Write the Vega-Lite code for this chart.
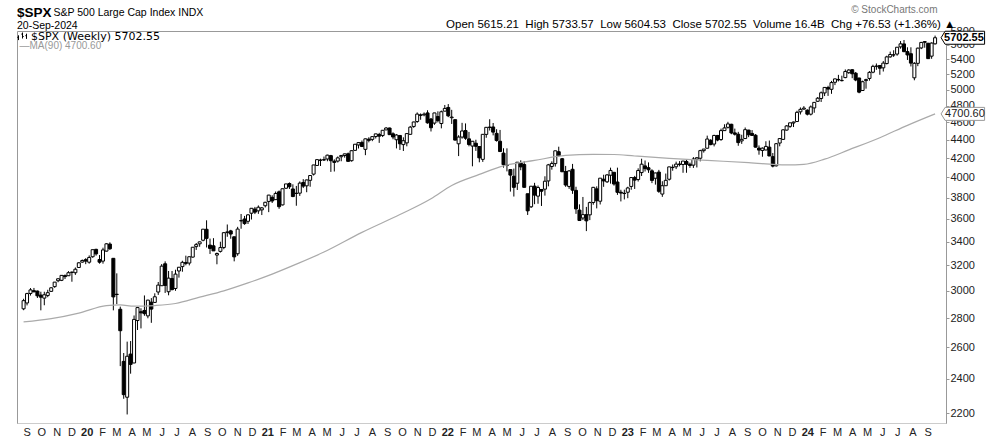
{
  "$schema": "https://vega.github.io/schema/vega-lite/v6.json",
  "width": 929,
  "height": 392,
  "autosize": {"type": "none"},
  "padding": {"left": 17, "top": 31, "right": 44, "bottom": 15},
  "background": "white",
  "config": {"view": {"stroke": null}, "font": "Liberation Sans"},
  "title": {
    "text": "$SPX",
    "subtitle": "20-Sep-2024",
    "anchor": "start",
    "frame": "group",
    "font": "Liberation Sans",
    "fontSize": 13.5,
    "fontWeight": "bold",
    "color": "#000",
    "subtitleFont": "Liberation Sans",
    "subtitleFontSize": 10.5,
    "subtitleColor": "#000",
    "subtitlePadding": 1,
    "offset": 3,
    "dy": 30
  },
  "datasets": {
    "spx": [
      {"d":"2019-08-30","o":2866,"h":2940,"l":2856,"c":2926},
      {"d":"2019-09-06","o":2909,"h":2985,"l":2891,"c":2979},
      {"d":"2019-09-13","o":2980,"h":3021,"l":2964,"c":3007},
      {"d":"2019-09-20","o":3001,"h":3022,"l":2990,"c":2992},
      {"d":"2019-09-27","o":2998,"h":3002,"l":2946,"c":2962},
      {"d":"2019-10-04","o":2968,"h":2993,"l":2855,"c":2952},
      {"d":"2019-10-11","o":2945,"h":2993,"l":2892,"c":2970},
      {"d":"2019-10-18","o":2965,"h":3008,"l":2952,"c":2986},
      {"d":"2019-10-25","o":2996,"h":3027,"l":2992,"c":3023},
      {"d":"2019-11-01","o":3032,"h":3066,"l":3023,"c":3067},
      {"d":"2019-11-08","o":3078,"h":3097,"l":3066,"c":3093},
      {"d":"2019-11-15","o":3081,"h":3120,"l":3075,"c":3120},
      {"d":"2019-11-22","o":3118,"h":3127,"l":3091,"c":3110},
      {"d":"2019-11-29","o":3117,"h":3154,"l":3115,"c":3141},
      {"d":"2019-12-06","o":3143,"h":3150,"l":3070,"c":3146},
      {"d":"2019-12-13","o":3141,"h":3183,"l":3124,"c":3169},
      {"d":"2019-12-20","o":3183,"h":3226,"l":3180,"c":3221},
      {"d":"2019-12-27","o":3227,"h":3248,"l":3222,"c":3240},
      {"d":"2020-01-03","o":3247,"h":3259,"l":3210,"c":3235},
      {"d":"2020-01-10","o":3226,"h":3282,"l":3214,"c":3265},
      {"d":"2020-01-17","o":3271,"h":3329,"l":3263,"c":3330},
      {"d":"2020-01-24","o":3333,"h":3338,"l":3280,"c":3295},
      {"d":"2020-01-31","o":3248,"h":3285,"l":3214,"c":3226},
      {"d":"2020-02-07","o":3235,"h":3347,"l":3214,"c":3328},
      {"d":"2020-02-14","o":3318,"h":3385,"l":3315,"c":3380},
      {"d":"2020-02-21","o":3378,"h":3393,"l":3328,"c":3338},
      {"d":"2020-02-28","o":3258,"h":3260,"l":2855,"c":2954},
      {"d":"2020-03-06","o":2974,"h":3136,"l":2901,"c":2972},
      {"d":"2020-03-13","o":2863,"h":2882,"l":2478,"c":2711},
      {"d":"2020-03-20","o":2508,"h":2562,"l":2281,"c":2305},
      {"d":"2020-03-27","o":2290,"h":2637,"l":2192,"c":2541},
      {"d":"2020-04-03","o":2555,"h":2641,"l":2431,"c":2489},
      {"d":"2020-04-10","o":2498,"h":2818,"l":2497,"c":2790},
      {"d":"2020-04-17","o":2782,"h":2880,"l":2716,"c":2875},
      {"d":"2020-04-24","o":2845,"h":2870,"l":2727,"c":2837},
      {"d":"2020-05-01","o":2854,"h":2965,"l":2816,"c":2831},
      {"d":"2020-05-08","o":2815,"h":2932,"l":2798,"c":2930},
      {"d":"2020-05-15","o":2915,"h":2945,"l":2766,"c":2864},
      {"d":"2020-05-22","o":2913,"h":2981,"l":2909,"c":2955},
      {"d":"2020-05-29","o":2991,"h":3068,"l":2969,"c":3044},
      {"d":"2020-06-05","o":3039,"h":3211,"l":3038,"c":3194},
      {"d":"2020-06-12","o":3213,"h":3233,"l":2984,"c":3041},
      {"d":"2020-06-19","o":2993,"h":3155,"l":2966,"c":3098},
      {"d":"2020-06-26","o":3095,"h":3155,"l":3004,"c":3009},
      {"d":"2020-07-03","o":3018,"h":3165,"l":3000,"c":3130},
      {"d":"2020-07-10","o":3155,"h":3185,"l":3102,"c":3185},
      {"d":"2020-07-17","o":3190,"h":3238,"l":3149,"c":3225},
      {"d":"2020-07-24","o":3224,"h":3280,"l":3201,"c":3216},
      {"d":"2020-07-31","o":3219,"h":3272,"l":3200,"c":3271},
      {"d":"2020-08-07","o":3268,"h":3352,"l":3264,"c":3351},
      {"d":"2020-08-14","o":3356,"h":3387,"l":3328,"c":3373},
      {"d":"2020-08-21","o":3380,"h":3399,"l":3355,"c":3397},
      {"d":"2020-08-28","o":3411,"h":3509,"l":3402,"c":3508},
      {"d":"2020-09-04","o":3507,"h":3588,"l":3349,"c":3427},
      {"d":"2020-09-11","o":3369,"h":3425,"l":3294,"c":3341},
      {"d":"2020-09-18","o":3363,"h":3429,"l":3322,"c":3320},
      {"d":"2020-09-25","o":3285,"h":3306,"l":3209,"c":3298},
      {"d":"2020-10-02","o":3316,"h":3398,"l":3306,"c":3348},
      {"d":"2020-10-09","o":3349,"h":3482,"l":3334,"c":3477},
      {"d":"2020-10-16","o":3478,"h":3550,"l":3441,"c":3484},
      {"d":"2020-10-23","o":3493,"h":3502,"l":3424,"c":3465},
      {"d":"2020-10-30","o":3441,"h":3441,"l":3233,"c":3270},
      {"d":"2020-11-06","o":3296,"h":3529,"l":3279,"c":3509},
      {"d":"2020-11-13","o":3583,"h":3646,"l":3512,"c":3585},
      {"d":"2020-11-20","o":3600,"h":3628,"l":3547,"c":3558},
      {"d":"2020-11-27","o":3579,"h":3644,"l":3555,"c":3638},
      {"d":"2020-12-04","o":3653,"h":3700,"l":3595,"c":3699},
      {"d":"2020-12-11","o":3692,"h":3712,"l":3645,"c":3663},
      {"d":"2020-12-18","o":3675,"h":3726,"l":3647,"c":3709},
      {"d":"2020-12-25","o":3684,"h":3711,"l":3636,"c":3703},
      {"d":"2021-01-01","o":3723,"h":3760,"l":3707,"c":3756},
      {"d":"2021-01-08","o":3764,"h":3827,"l":3663,"c":3825},
      {"d":"2021-01-15","o":3803,"h":3823,"l":3749,"c":3768},
      {"d":"2021-01-22","o":3781,"h":3860,"l":3781,"c":3841},
      {"d":"2021-01-29","o":3857,"h":3870,"l":3694,"c":3714},
      {"d":"2021-02-05","o":3731,"h":3888,"l":3726,"c":3887},
      {"d":"2021-02-12","o":3892,"h":3935,"l":3885,"c":3935},
      {"d":"2021-02-19","o":3939,"h":3950,"l":3885,"c":3907},
      {"d":"2021-02-26","o":3885,"h":3931,"l":3805,"c":3811},
      {"d":"2021-03-05","o":3842,"h":3915,"l":3723,"c":3842},
      {"d":"2021-03-12","o":3844,"h":3960,"l":3817,"c":3943},
      {"d":"2021-03-19","o":3949,"h":3983,"l":3894,"c":3913},
      {"d":"2021-03-26","o":3916,"h":3978,"l":3853,"c":3975},
      {"d":"2021-04-02","o":3971,"h":4018,"l":3907,"c":4020},
      {"d":"2021-04-09","o":4034,"h":4130,"l":4020,"c":4129},
      {"d":"2021-04-16","o":4124,"h":4191,"l":4119,"c":4185},
      {"d":"2021-04-23","o":4179,"h":4195,"l":4118,"c":4180},
      {"d":"2021-04-30","o":4185,"h":4218,"l":4171,"c":4181},
      {"d":"2021-05-07","o":4192,"h":4238,"l":4168,"c":4233},
      {"d":"2021-05-14","o":4228,"h":4236,"l":4057,"c":4174},
      {"d":"2021-05-21","o":4169,"h":4188,"l":4061,"c":4156},
      {"d":"2021-05-28","o":4170,"h":4219,"l":4155,"c":4204},
      {"d":"2021-06-04","o":4216,"h":4234,"l":4168,"c":4230},
      {"d":"2021-06-11","o":4229,"h":4249,"l":4206,"c":4247},
      {"d":"2021-06-18","o":4248,"h":4261,"l":4164,"c":4167},
      {"d":"2021-06-25","o":4174,"h":4286,"l":4164,"c":4281},
      {"d":"2021-07-02","o":4285,"h":4355,"l":4278,"c":4352},
      {"d":"2021-07-09","o":4344,"h":4372,"l":4305,"c":4370},
      {"d":"2021-07-16","o":4372,"h":4393,"l":4321,"c":4327},
      {"d":"2021-07-23","o":4296,"h":4415,"l":4233,"c":4412},
      {"d":"2021-07-30","o":4409,"h":4430,"l":4373,"c":4395},
      {"d":"2021-08-06","o":4406,"h":4440,"l":4386,"c":4437},
      {"d":"2021-08-13","o":4438,"h":4468,"l":4416,"c":4468},
      {"d":"2021-08-20","o":4461,"h":4480,"l":4367,"c":4442},
      {"d":"2021-08-27","o":4450,"h":4510,"l":4432,"c":4509},
      {"d":"2021-09-03","o":4513,"h":4545,"l":4513,"c":4535},
      {"d":"2021-09-10","o":4535,"h":4539,"l":4457,"c":4459},
      {"d":"2021-09-17","o":4469,"h":4486,"l":4407,"c":4433},
      {"d":"2021-09-24","o":4402,"h":4465,"l":4306,"c":4455},
      {"d":"2021-10-01","o":4450,"h":4455,"l":4289,"c":4357},
      {"d":"2021-10-08","o":4348,"h":4429,"l":4278,"c":4391},
      {"d":"2021-10-15","o":4367,"h":4475,"l":4329,"c":4471},
      {"d":"2021-10-22","o":4463,"h":4559,"l":4459,"c":4545},
      {"d":"2021-10-29","o":4553,"h":4608,"l":4537,"c":4605},
      {"d":"2021-11-05","o":4610,"h":4718,"l":4595,"c":4698},
      {"d":"2021-11-12","o":4689,"h":4706,"l":4631,"c":4683},
      {"d":"2021-11-19","o":4689,"h":4718,"l":4672,"c":4698},
      {"d":"2021-11-26","o":4712,"h":4744,"l":4585,"c":4595},
      {"d":"2021-12-03","o":4640,"h":4652,"l":4495,"c":4538},
      {"d":"2021-12-10","o":4592,"h":4713,"l":4572,"c":4712},
      {"d":"2021-12-17","o":4669,"h":4731,"l":4600,"c":4621},
      {"d":"2021-12-24","o":4587,"h":4740,"l":4531,"c":4726},
      {"d":"2021-12-31","o":4733,"h":4808,"l":4733,"c":4766},
      {"d":"2022-01-07","o":4778,"h":4819,"l":4662,"c":4677},
      {"d":"2022-01-14","o":4655,"h":4749,"l":4582,"c":4663},
      {"d":"2022-01-21","o":4632,"h":4632,"l":4395,"c":4398},
      {"d":"2022-01-28","o":4357,"h":4453,"l":4223,"c":4432},
      {"d":"2022-02-04","o":4432,"h":4595,"l":4414,"c":4501},
      {"d":"2022-02-11","o":4506,"h":4588,"l":4401,"c":4419},
      {"d":"2022-02-18","o":4412,"h":4490,"l":4329,"c":4349},
      {"d":"2022-02-25","o":4332,"h":4385,"l":4115,"c":4385},
      {"d":"2022-03-04","o":4363,"h":4402,"l":4279,"c":4329},
      {"d":"2022-03-11","o":4327,"h":4329,"l":4157,"c":4204},
      {"d":"2022-03-18","o":4188,"h":4465,"l":4161,"c":4463},
      {"d":"2022-03-25","o":4462,"h":4546,"l":4424,"c":4543},
      {"d":"2022-04-01","o":4541,"h":4637,"l":4506,"c":4546},
      {"d":"2022-04-08","o":4547,"h":4593,"l":4451,"c":4488},
      {"d":"2022-04-15","o":4474,"h":4521,"l":4381,"c":4393},
      {"d":"2022-04-22","o":4385,"h":4513,"l":4268,"c":4272},
      {"d":"2022-04-29","o":4255,"h":4308,"l":4101,"c":4132},
      {"d":"2022-05-06","o":4130,"h":4307,"l":4062,"c":4123},
      {"d":"2022-05-13","o":4081,"h":4081,"l":3859,"c":4024},
      {"d":"2022-05-20","o":4013,"h":4091,"l":3811,"c":3901},
      {"d":"2022-05-27","o":3942,"h":4158,"l":3875,"c":4158},
      {"d":"2022-06-03","o":4150,"h":4178,"l":4074,"c":4109},
      {"d":"2022-06-10","o":4134,"h":4168,"l":3900,"c":3901},
      {"d":"2022-06-17","o":3838,"h":3838,"l":3637,"c":3675},
      {"d":"2022-06-24","o":3713,"h":3913,"l":3702,"c":3912},
      {"d":"2022-07-01","o":3913,"h":3946,"l":3738,"c":3825},
      {"d":"2022-07-08","o":3815,"h":3919,"l":3742,"c":3899},
      {"d":"2022-07-15","o":3880,"h":3881,"l":3721,"c":3863},
      {"d":"2022-07-22","o":3883,"h":4012,"l":3820,"c":3962},
      {"d":"2022-07-29","o":3965,"h":4140,"l":3911,"c":4130},
      {"d":"2022-08-05","o":4113,"h":4167,"l":4080,"c":4145},
      {"d":"2022-08-12","o":4143,"h":4280,"l":4112,"c":4280},
      {"d":"2022-08-19","o":4270,"h":4325,"l":4218,"c":4228},
      {"d":"2022-08-26","o":4195,"h":4203,"l":4057,"c":4058},
      {"d":"2022-09-02","o":4061,"h":4119,"l":3906,"c":3924},
      {"d":"2022-09-09","o":3910,"h":4076,"l":3886,"c":4067},
      {"d":"2022-09-16","o":4084,"h":4140,"l":3837,"c":3873},
      {"d":"2022-09-23","o":3871,"h":3907,"l":3647,"c":3693},
      {"d":"2022-09-30","o":3682,"h":3736,"l":3584,"c":3586},
      {"d":"2022-10-07","o":3609,"h":3807,"l":3590,"c":3640},
      {"d":"2022-10-14","o":3640,"h":3712,"l":3491,"c":3583},
      {"d":"2022-10-21","o":3638,"h":3762,"l":3590,"c":3753},
      {"d":"2022-10-28","o":3754,"h":3905,"l":3733,"c":3901},
      {"d":"2022-11-04","o":3886,"h":3911,"l":3698,"c":3771},
      {"d":"2022-11-11","o":3766,"h":3993,"l":3735,"c":3993},
      {"d":"2022-11-18","o":3982,"h":4028,"l":3906,"c":3965},
      {"d":"2022-11-25","o":3956,"h":4034,"l":3945,"c":4026},
      {"d":"2022-12-02","o":4023,"h":4101,"l":3938,"c":4072},
      {"d":"2022-12-09","o":4053,"h":4053,"l":3918,"c":3934},
      {"d":"2022-12-16","o":3954,"h":4101,"l":3827,"c":3852},
      {"d":"2022-12-23","o":3853,"h":3877,"l":3764,"c":3845},
      {"d":"2022-12-30","o":3843,"h":3878,"l":3783,"c":3840},
      {"d":"2023-01-06","o":3853,"h":3907,"l":3795,"c":3895},
      {"d":"2023-01-13","o":3910,"h":4003,"l":3877,"c":3999},
      {"d":"2023-01-20","o":3999,"h":4016,"l":3885,"c":3973},
      {"d":"2023-01-27","o":3979,"h":4094,"l":3959,"c":4071},
      {"d":"2023-02-03","o":4050,"h":4195,"l":4015,"c":4137},
      {"d":"2023-02-10","o":4119,"h":4176,"l":4061,"c":4091},
      {"d":"2023-02-17","o":4100,"h":4156,"l":4047,"c":4079},
      {"d":"2023-02-24","o":4068,"h":4084,"l":3943,"c":3970},
      {"d":"2023-03-03","o":3992,"h":4049,"l":3928,"c":4046},
      {"d":"2023-03-10","o":4055,"h":4078,"l":3847,"c":3862},
      {"d":"2023-03-17","o":3835,"h":3962,"l":3808,"c":3917},
      {"d":"2023-03-24","o":3917,"h":4040,"l":3917,"c":3971},
      {"d":"2023-03-31","o":3982,"h":4110,"l":3969,"c":4109},
      {"d":"2023-04-07","o":4102,"h":4134,"l":4069,"c":4105},
      {"d":"2023-04-14","o":4110,"h":4164,"l":4086,"c":4138},
      {"d":"2023-04-21","o":4139,"h":4170,"l":4114,"c":4134},
      {"d":"2023-04-28","o":4134,"h":4170,"l":4048,"c":4170},
      {"d":"2023-05-05","o":4166,"h":4186,"l":4048,"c":4136},
      {"d":"2023-05-12","o":4136,"h":4154,"l":4099,"c":4124},
      {"d":"2023-05-19","o":4127,"h":4212,"l":4098,"c":4192},
      {"d":"2023-05-26","o":4190,"h":4212,"l":4103,"c":4205},
      {"d":"2023-06-02","o":4200,"h":4291,"l":4167,"c":4282},
      {"d":"2023-06-09","o":4282,"h":4299,"l":4261,"c":4299},
      {"d":"2023-06-16","o":4308,"h":4448,"l":4307,"c":4410},
      {"d":"2023-06-23","o":4396,"h":4408,"l":4341,"c":4348},
      {"d":"2023-06-30","o":4354,"h":4458,"l":4328,"c":4450},
      {"d":"2023-07-07","o":4450,"h":4456,"l":4385,"c":4399},
      {"d":"2023-07-14","o":4404,"h":4528,"l":4390,"c":4505},
      {"d":"2023-07-21","o":4505,"h":4578,"l":4505,"c":4536},
      {"d":"2023-07-28","o":4543,"h":4607,"l":4529,"c":4582},
      {"d":"2023-08-04","o":4578,"h":4584,"l":4464,"c":4478},
      {"d":"2023-08-11","o":4479,"h":4528,"l":4449,"c":4464},
      {"d":"2023-08-18","o":4464,"h":4491,"l":4335,"c":4370},
      {"d":"2023-08-25","o":4389,"h":4458,"l":4356,"c":4406},
      {"d":"2023-09-01","o":4415,"h":4541,"l":4413,"c":4516},
      {"d":"2023-09-08","o":4511,"h":4514,"l":4431,"c":4458},
      {"d":"2023-09-15","o":4473,"h":4511,"l":4447,"c":4450},
      {"d":"2023-09-22","o":4453,"h":4465,"l":4316,"c":4320},
      {"d":"2023-09-29","o":4310,"h":4339,"l":4238,"c":4288},
      {"d":"2023-10-06","o":4284,"h":4317,"l":4216,"c":4309},
      {"d":"2023-10-13","o":4289,"h":4385,"l":4286,"c":4328},
      {"d":"2023-10-20","o":4320,"h":4393,"l":4223,"c":4224},
      {"d":"2023-10-27","o":4217,"h":4256,"l":4104,"c":4117},
      {"d":"2023-11-03","o":4120,"h":4366,"l":4113,"c":4358},
      {"d":"2023-11-10","o":4365,"h":4421,"l":4329,"c":4415},
      {"d":"2023-11-17","o":4406,"h":4521,"l":4401,"c":4514},
      {"d":"2023-11-24","o":4511,"h":4568,"l":4506,"c":4559},
      {"d":"2023-12-01","o":4554,"h":4595,"l":4537,"c":4595},
      {"d":"2023-12-08","o":4593,"h":4609,"l":4546,"c":4604},
      {"d":"2023-12-15","o":4610,"h":4738,"l":4605,"c":4719},
      {"d":"2023-12-22","o":4725,"h":4778,"l":4693,"c":4755},
      {"d":"2023-12-29","o":4758,"h":4794,"l":4751,"c":4770},
      {"d":"2024-01-05","o":4745,"h":4755,"l":4682,"c":4697},
      {"d":"2024-01-12","o":4697,"h":4802,"l":4682,"c":4784},
      {"d":"2024-01-19","o":4772,"h":4842,"l":4714,"c":4840},
      {"d":"2024-01-26","o":4853,"h":4906,"l":4845,"c":4891},
      {"d":"2024-02-02","o":4888,"h":4975,"l":4845,"c":4959},
      {"d":"2024-02-09","o":4957,"h":5030,"l":4918,"c":5027},
      {"d":"2024-02-16","o":5026,"h":5048,"l":4920,"c":5006},
      {"d":"2024-02-23","o":5003,"h":5111,"l":4946,"c":5089},
      {"d":"2024-03-01","o":5093,"h":5140,"l":5057,"c":5137},
      {"d":"2024-03-08","o":5130,"h":5190,"l":5104,"c":5124},
      {"d":"2024-03-15","o":5114,"h":5179,"l":5104,"c":5117},
      {"d":"2024-03-22","o":5154,"h":5262,"l":5146,"c":5234},
      {"d":"2024-03-29","o":5219,"h":5265,"l":5203,"c":5254},
      {"d":"2024-04-05","o":5258,"h":5265,"l":5146,"c":5204},
      {"d":"2024-04-12","o":5212,"h":5228,"l":5107,"c":5123},
      {"d":"2024-04-19","o":5149,"h":5150,"l":4953,"c":4967},
      {"d":"2024-04-26","o":4988,"h":5114,"l":4983,"c":5100},
      {"d":"2024-05-03","o":5115,"h":5139,"l":5011,"c":5128},
      {"d":"2024-05-10","o":5143,"h":5239,"l":5114,"c":5223},
      {"d":"2024-05-17","o":5225,"h":5325,"l":5211,"c":5303},
      {"d":"2024-05-24","o":5305,"h":5342,"l":5257,"c":5305},
      {"d":"2024-05-31","o":5315,"h":5315,"l":5191,"c":5278},
      {"d":"2024-06-07","o":5283,"h":5375,"l":5234,"c":5347},
      {"d":"2024-06-14","o":5341,"h":5448,"l":5330,"c":5432},
      {"d":"2024-06-21","o":5432,"h":5505,"l":5421,"c":5465},
      {"d":"2024-06-28","o":5459,"h":5524,"l":5432,"c":5460},
      {"d":"2024-07-05","o":5471,"h":5570,"l":5448,"c":5567},
      {"d":"2024-07-12","o":5572,"h":5655,"l":5546,"c":5615},
      {"d":"2024-07-19","o":5614,"h":5670,"l":5497,"c":5505},
      {"d":"2024-07-26","o":5505,"h":5566,"l":5390,"c":5459},
      {"d":"2024-08-02","o":5476,"h":5566,"l":5302,"c":5347},
      {"d":"2024-08-09","o":5151,"h":5360,"l":5119,"c":5344},
      {"d":"2024-08-16","o":5344,"h":5561,"l":5306,"c":5554},
      {"d":"2024-08-23","o":5557,"h":5643,"l":5540,"c":5635},
      {"d":"2024-08-30","o":5636,"h":5651,"l":5560,"c":5648},
      {"d":"2024-09-06","o":5624,"h":5625,"l":5403,"c":5408},
      {"d":"2024-09-13","o":5442,"h":5636,"l":5406,"c":5626},
      {"d":"2024-09-20","o":5615.21,"h":5733.57,"l":5604.53,"c":5702.55}
    ],
    "ma": [
      {"d":"2019-08-30","v":2772},
      {"d":"2019-10-25","v":2795},
      {"d":"2019-12-20","v":2835},
      {"d":"2020-02-14","v":2890},
      {"d":"2020-03-13","v":2895},
      {"d":"2020-04-10","v":2885},
      {"d":"2020-05-22","v":2890},
      {"d":"2020-07-03","v":2905},
      {"d":"2020-08-21","v":2952},
      {"d":"2020-10-09","v":3000},
      {"d":"2020-11-27","v":3061},
      {"d":"2021-01-15","v":3130},
      {"d":"2021-03-05","v":3210},
      {"d":"2021-04-30","v":3310},
      {"d":"2021-07-16","v":3480},
      {"d":"2021-10-01","v":3641},
      {"d":"2021-12-03","v":3790},
      {"d":"2022-01-14","v":3920},
      {"d":"2022-03-11","v":4031},
      {"d":"2022-04-29","v":4120},
      {"d":"2022-07-01","v":4177},
      {"d":"2022-09-02","v":4230},
      {"d":"2022-10-28","v":4242},
      {"d":"2022-12-09","v":4240},
      {"d":"2023-01-20","v":4224},
      {"d":"2023-03-31","v":4199},
      {"d":"2023-06-16","v":4177},
      {"d":"2023-09-08","v":4153},
      {"d":"2023-11-24","v":4129},
      {"d":"2023-12-29","v":4135},
      {"d":"2024-02-09","v":4190},
      {"d":"2024-03-29","v":4290},
      {"d":"2024-05-31","v":4425},
      {"d":"2024-07-26","v":4566},
      {"d":"2024-09-20","v":4700.6}
    ],
    "tags": [
      {"d":"2024-09-20","v":5702.55,"t":"5702.55","k":"spx"},
      {"d":"2024-09-20","v":4700.6,"t":"4700.60","k":"ma"}
    ]
  },
  "resolve": {"axis": {"x": "independent", "y": "independent"}},
  "layer": [
    {
      "data": {"name": "spx"},
      "mark": {"type": "rule", "strokeWidth": 1},
      "encoding": {
        "x": {
          "field": "d", "type": "temporal",
          "scale": {"type": "utc", "nice": false, "domain": [{"year": 2019, "month": 8, "date": 26, "hours": 19, "utc": true}, {"year": 2024, "month": 10, "date": 2, "utc": true}]},
          "axis": {
            "orient": "bottom",
            "tickCount": {"interval": "month", "step": 1},
            "labelExpr": "datum.value > 1726000000000 ? '' : (utcmonth(datum.value) == 0 ? utcFormat(datum.value, '%y') : substring(utcFormat(datum.value, '%B'), 0, 1))",
            "labelFontWeight": {"condition": {"test": "utcmonth(datum.value) == 0", "value": "bold"}, "value": "normal"},
            "labelFont": "Liberation Sans", "labelFontSize": 11, "labelColor": "#222",
            "labelPadding": 3, "labelOffset": 2, "labelOverlap": false, "labelFlush": false, "labelBound": false,
            "ticks": false, "grid": false,
            "domainColor": "#999", "domainDash": [1, 1],
            "title": "S&P 500 Large Cap Index INDX",
            "titleX": 36, "titleY": -408, "titleAlign": "left", "titleBaseline": "alphabetic",
            "titleFont": "Liberation Sans", "titleFontSize": 10.5, "titleFontWeight": "normal", "titleColor": "#000"
          }
        },
        "y": {
          "field": "l", "type": "quantitative",
          "scale": {"type": "log", "domain": [2145, 5801], "nice": false, "zero": false},
          "axis": {
            "orient": "right",
            "values": [2200, 2400, 2600, 2800, 3000, 3200, 3400, 3600, 3800, 4000, 4200, 4400, 4600, 4800, 5000, 5200, 5400, 5600, 5800],
            "format": "d",
            "labelFont": "Liberation Sans", "labelFontSize": 11, "labelColor": "#222",
            "tickSize": 3, "tickColor": "#999", "labelPadding": 1,
            "labelOverlap": false, "labelFlush": false, "labelBound": false,
            "grid": false, "domainColor": "#999",
            "title": "Open 5615.21\u00a0\u00a0High 5733.57\u00a0\u00a0Low 5604.53\u00a0\u00a0Close 5702.55\u00a0\u00a0Volume 16.4B\u00a0\u00a0Chg +76.53 (+1.36%) \u25b2",
            "titleX": 9, "titleY": -4, "titleAngle": 0, "titleAlign": "right", "titleBaseline": "alphabetic",
            "titleFont": "Liberation Sans", "titleFontSize": 11.5, "titleFontWeight": "normal", "titleColor": "#000"
          }
        },
        "y2": {"field": "h"},
        "stroke": {
          "datum": "$SPX (Weekly) 5702.55", "type": "nominal",
          "scale": {"range": ["#000"]},
          "legend": {
            "orient": "top-left", "offset": 0, "padding": 0, "title": null,
            "symbolType": "M-1,-0.3V0.9M-1.3,0.2H-1M0,-1V0.5M-0.3,-0.6H0M0,0H0.3M1,-0.7V0.6M0.7,-0.2H1",
            "symbolSize": 64, "symbolStrokeWidth": 1, "symbolFillColor": "transparent",
            "labelFont": "DejaVu Sans", "labelFontSize": 11, "labelColor": "#000", "labelOffset": 3
          }
        }
      }
    },
    {
      "data": {"name": "spx"},
      "mark": {"type": "bar", "width": 3, "stroke": "#000", "strokeWidth": 1},
      "encoding": {
        "x": {
          "field": "d", "type": "temporal",
          "axis": {
            "orient": "top", "labels": false, "ticks": false, "grid": false, "domainColor": "#999",
            "title": "\u00a9 StockCharts.com",
            "titleX": 920, "titleY": -19, "titleAlign": "right", "titleBaseline": "alphabetic",
            "titleFont": "Liberation Sans", "titleFontSize": 10, "titleFontWeight": "normal", "titleColor": "#777"
          }
        },
        "y": {
          "field": "o", "type": "quantitative",
          "axis": {
            "orient": "left", "labels": false, "ticks": false, "grid": false, "domainColor": "#999",
            "title": "\u2014MA(90) 4700.60",
            "titleX": 2, "titleY": 17, "titleAngle": 0, "titleAlign": "left", "titleBaseline": "alphabetic",
            "titleFont": "Liberation Sans", "titleFontSize": 10, "titleFontWeight": "normal", "titleColor": "#999"
          }
        },
        "y2": {"field": "c"},
        "fill": {"condition": {"test": "datum.c < datum.o", "value": "#000"}, "value": "#fff"}
      }
    },
    {
      "data": {"name": "ma"},
      "mark": {"type": "line", "color": "#aaa", "strokeWidth": 1.2, "interpolate": "monotone"},
      "encoding": {
        "x": {"field": "d", "type": "temporal", "axis": null},
        "y": {"field": "v", "type": "quantitative", "axis": null}
      }
    },
    {
      "data": {"name": "tags"},
      "mark": {"type": "point", "shape": "M0.6,0L1,-0.65H4.95V0.65H1Z", "size": 400, "filled": true, "fill": "#fff", "strokeWidth": 1, "opacity": 1},
      "encoding": {
        "x": {"field": "d", "type": "temporal", "axis": null},
        "y": {"field": "v", "type": "quantitative", "axis": null},
        "stroke": {"condition": {"test": "datum.k == 'ma'", "value": "#999"}, "value": "#000"}
      }
    },
    {
      "data": {"name": "tags"},
      "transform": [{"filter": "datum.k == 'spx'"}],
      "mark": {"type": "text", "align": "left", "baseline": "middle", "dx": 9, "font": "Liberation Sans", "fontSize": 11, "fontWeight": "bold", "color": "#000"},
      "encoding": {
        "x": {"field": "d", "type": "temporal", "axis": null},
        "y": {"field": "v", "type": "quantitative", "axis": null},
        "text": {"field": "t"}
      }
    },
    {
      "data": {"name": "tags"},
      "transform": [{"filter": "datum.k == 'ma'"}],
      "mark": {"type": "text", "align": "left", "baseline": "middle", "dx": 10, "font": "Liberation Sans", "fontSize": 11, "color": "#222"},
      "encoding": {
        "x": {"field": "d", "type": "temporal", "axis": null},
        "y": {"field": "v", "type": "quantitative", "axis": null},
        "text": {"field": "t"}
      }
    }
  ]
}
